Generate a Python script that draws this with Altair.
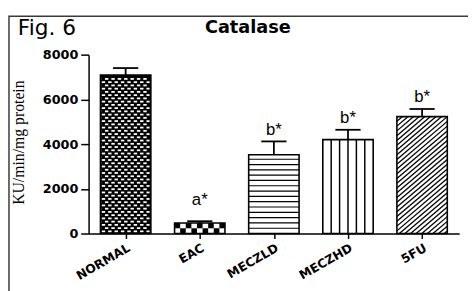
import json
import pandas as pd
import altair as alt

# ---- data ----
categories = ["NORMAL", "EAC", "MECZLD", "MECZHD", "5FU"]
means = [7090, 470, 3520, 4200, 5230]
sems = [310, 80, 600, 440, 340]
sig = ["", "a*", "b*", "b*", "b*"]
y_ticks = [0, 2000, 4000, 6000, 8000]

# ---- layout constants ----
W_PLOT, H_PLOT = 377, 182
YMAX = 8000
PXY = YMAX / H_PLOT          # data units per px (y)
PXX = 5 / W_PLOT             # data units per px (x)
HALF = 0.34
WPX = 2 * HALF / PXX         # bar width in px

df = pd.DataFrame({"cat": categories, "idx": list(range(len(categories))),
                   "mean": means, "sem": sems, "lab": sig})

def to_data(i, xpx, ypx):
    return i - HALF + xpx * PXX, ypx * PXY

# ---- fill patterns (decoration, derived from the bar values) ----
rects = []
# NORMAL : black with staggered white bricks
H = means[0] / PXY
k = 0
while True:
    y0 = 1.3 + k * 3.3
    y1 = y0 + 1.8
    if y1 > H - 1.3:
        break
    off = (k % 2) * 3.25
    c = -1
    while True:
        xa = 1.3 + off + c * 6.5
        xb = xa + 3.5
        if xa >= WPX - 1.3:
            break
        xa2, xb2 = max(xa, 1.3), min(xb, WPX - 1.3)
        if xb2 > xa2:
            ax, ay = to_data(0, xa2, y0)
            bx, by = to_data(0, xb2, y1)
            rects.append({"x": ax, "x2": bx, "y": ay, "y2": by, "col": "white"})
        c += 1
    k += 1
# EAC : large checker
H = means[1] / PXY
ncol = 9
for r in range(2):
    for c in range(ncol):
        if (r + c) % 2 == 1:
            ax, ay = to_data(1, c * WPX / ncol, r * H / 2)
            bx, by = to_data(1, (c + 1) * WPX / ncol, (r + 1) * H / 2)
            rects.append({"x": ax, "x2": bx, "y": ay, "y2": by, "col": "black"})
rect_df = pd.DataFrame(rects)

segs = []
# MECZLD : horizontal lines
H = means[2] / PXY
yy = 5.4
while yy < H - 2:
    ax, ay = to_data(2, 0, yy)
    bx, by = to_data(2, WPX, yy)
    segs.append({"x": ax, "x2": bx, "y": ay, "y2": by, "w": 1.2})
    yy += 5.4
# MECZHD : vertical lines
H = means[3] / PXY
for kk in range(1, 6):
    ax, ay = to_data(3, kk * WPX / 6, 0)
    bx, by = to_data(3, kk * WPX / 6, H)
    segs.append({"x": ax, "x2": bx, "y": ay, "y2": by, "w": 1.5})
# 5FU : diagonal hatch
H = means[4] / PXY
m, s = 0.85, 5.7
c = -H / m
while c < WPX:
    xa, xb = max(0, c), min(WPX, c + H / m)
    if xb > xa:
        ax, ay = to_data(4, xa, m * (xa - c))
        bx, by = to_data(4, xb, m * (xb - c))
        segs.append({"x": ax, "x2": bx, "y": ay, "y2": by, "w": 1.3})
    c += s
seg_df = pd.DataFrame(segs)

# ---- scales & axes ----
xs = alt.Scale(domain=[-0.5, 4.5], nice=False, zero=False)
ys = alt.Scale(domain=[0, YMAX], nice=False)

label_expr = json.dumps(categories) + "[datum.value]"
x_axis = alt.Axis(values=list(range(len(categories))), labelExpr=label_expr,
                  labelAngle=330, labelFont="DejaVu Sans", labelFontWeight="bold",
                  labelFontSize=12.5, labelColor="black", tickSize=5, tickWidth=1.5,
                  tickColor="black", domainColor="black", domainWidth=1.5,
                  labelPadding=3, grid=False, title="")
y_axis = alt.Axis(values=y_ticks, format="d", labelFont="DejaVu Sans",
                  labelFontWeight="bold", labelFontSize=13, labelColor="black",
                  tickSize=8, tickWidth=1.5, tickColor="black", domainColor="black",
                  domainWidth=1.5, labelPadding=3, grid=False,
                  title="KU/min/mg protein", titleFont="Liberation Serif",
                  titleFontSize=16, titleFontWeight="normal", titleColor="black",
                  titleAngle=270, titleX=-71, titleY=H_PLOT / 2 - 2,
                  titleBaseline="middle", titleAlign="center")

def X(field):
    return alt.X(field, scale=xs, axis=x_axis)

def Y(field):
    return alt.Y(field, scale=ys, axis=y_axis)

base = alt.Chart(df).transform_calculate(
    x0="datum.idx - 0.34", x1="datum.idx + 0.34",
    top="datum.mean + datum.sem",
    c0="datum.idx - 0.17", c1="datum.idx + 0.17",
    fillc="datum.cat == 'NORMAL' ? 'black' : 'white'")

fills = base.mark_rect().encode(
    x=X("x0:Q"), x2="x1:Q", y=Y("mean:Q"), y2=alt.datum(0),
    fill=alt.Fill("fillc:N", scale=None))

pat_rects = alt.Chart(rect_df).mark_rect().encode(
    x=X("x:Q"), x2="x2:Q", y=Y("y:Q"), y2="y2:Q",
    fill=alt.Fill("col:N", scale=None))

pat_lines = alt.Chart(seg_df).mark_rule(color="black").encode(
    x=X("x:Q"), x2="x2:Q", y=Y("y:Q"), y2="y2:Q",
    strokeWidth=alt.StrokeWidth("w:Q", scale=None))

outline = base.mark_rect(fillOpacity=0, stroke="black", strokeWidth=1.6).encode(
    x=X("x0:Q"), x2="x1:Q", y=Y("mean:Q"), y2=alt.datum(0))

stem = base.mark_rule(color="black", strokeWidth=1.8).encode(
    x=X("idx:Q"), y=Y("mean:Q"), y2="top:Q")

cap = base.mark_rule(color="black", strokeWidth=1.8).encode(
    x=X("c0:Q"), x2="c1:Q", y=Y("top:Q"))

lab_a = base.transform_filter("datum.lab == 'a*'").mark_text(
    font="Liberation Sans", fontSize=17, baseline="alphabetic", dy=-17,
    color="black").encode(x=X("idx:Q"), y=Y("top:Q"), text="lab:N")

lab_b = base.transform_filter("datum.lab == 'b*'").mark_text(
    font="Liberation Sans", fontSize=17, baseline="alphabetic", dy=-7,
    color="black").encode(x=X("idx:Q"), y=Y("top:Q"), text="lab:N")

one = pd.DataFrame({"t": ["Fig. 6"], "title": ["Catalase"]})
border = alt.Chart(one).mark_rect(fillOpacity=0, stroke="#3a3a3a", strokeWidth=1.5).encode(
    x=alt.value(-81), x2=alt.value(440), y=alt.value(-39), y2=alt.value(330))

fig = alt.Chart(one).mark_text(align="left", baseline="alphabetic",
                               font="DejaVu Sans", fontSize=22, color="black").encode(
    text="t:N", x=alt.value(-72), y=alt.value(-20))

ttl = alt.Chart(one).mark_text(align="center", baseline="alphabetic",
                               font="DejaVu Sans", fontSize=18, fontWeight="bold",
                               color="black").encode(
    text="title:N", x=alt.value(162), y=alt.value(-22))

chart = alt.layer(fills, pat_rects, pat_lines, outline, stem, cap, lab_a, lab_b,
                  border, fig, ttl).properties(
    width=W_PLOT, height=H_PLOT,
    autosize=alt.AutoSizeParams(type="none"),
    padding={"left": 82, "top": 45, "right": 9, "bottom": 56},
).configure_view(stroke="transparent")

chart.save("out.html", embed_options={"renderer": "svg", "actions": False})
